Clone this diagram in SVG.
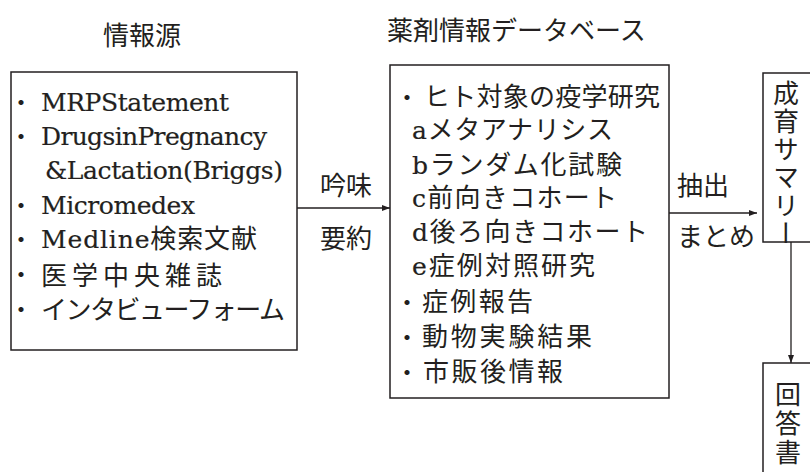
<svg xmlns="http://www.w3.org/2000/svg" width="810" height="472" viewBox="0 0 810 472">
<style>
  text { fill: #231f20; font-family: "DejaVu Serif", "Noto Sans CJK JP", serif; }
  .jp { font-family: "Noto Sans CJK JP", sans-serif; font-size: 26px; }
  .lat { font-size: 25px; stroke: #231f20; stroke-width: 0.2; }
  .mix { font-size: 26px; }
  .mix tspan.l { font-family: "DejaVu Serif", serif; font-size: 25px; stroke: #231f20; stroke-width: 0.2; }
  .bul { font-family: "Noto Sans CJK JP", sans-serif; font-size: 24px; text-anchor: middle; }
  .box { fill: #ffffff; stroke: #231f20; stroke-width: 1.5; }
  .con { stroke: #231f20; stroke-width: 1.3; fill: none; }
  .vert { font-family: "Noto Sans CJK JP", sans-serif; font-size: 26px; writing-mode: vertical-rl; }
</style>
<defs>
  <marker id="ah" viewBox="0 0 8 6" refX="8" refY="3" markerWidth="8" markerHeight="6" markerUnits="userSpaceOnUse" orient="auto">
    <path d="M0,0 L8,3 L0,6 Z" fill="#231f20"/>
  </marker>
</defs>

<text class="jp" x="103" y="45">情報源</text>
<text class="jp" x="387" y="40">薬剤情報データベース</text>

<g id="sources">
  <rect class="box" x="11" y="72" width="286" height="278"/>
  <text class="bul" x="21" y="111">・</text>
  <text class="lat" x="41" y="111" textLength="188">MRPStatement</text>
  <text class="bul" x="21" y="145">・</text>
  <text class="lat" x="41" y="145" textLength="226">DrugsinPregnancy</text>
  <text class="lat" x="45" y="179" textLength="238">&amp;Lactation(Briggs)</text>
  <text class="bul" x="21" y="214">・</text>
  <text class="lat" x="41" y="214" textLength="154">Micromedex</text>
  <text class="bul" x="21" y="248">・</text>
  <text class="mix" x="41" y="248" textLength="216"><tspan class="l">Medline</tspan>検索文献</text>
  <text class="bul" x="21" y="283">・</text>
  <text class="jp" x="41" y="285" textLength="181">医学中央雑誌</text>
  <text class="bul" x="21" y="318">・</text>
  <text class="jp" x="41" y="319" textLength="244">インタビューフォーム</text>
</g>

<g id="database">
  <rect class="box" x="390" y="65" width="279" height="333"/>
  <text class="bul" x="407" y="106">・</text>
  <text class="jp" x="424" y="106" textLength="236">ヒト対象の疫学研究</text>
  <text class="mix" x="412" y="139" textLength="201"><tspan class="l">a</tspan>メタアナリシス</text>
  <text class="mix" x="412" y="174" textLength="210"><tspan class="l">b</tspan>ランダム化試験</text>
  <text class="mix" x="412" y="207" textLength="205"><tspan class="l">c</tspan>前向きコホート</text>
  <text class="mix" x="412" y="241" textLength="236"><tspan class="l">d</tspan>後ろ向きコホート</text>
  <text class="mix" x="412" y="275" textLength="183"><tspan class="l">e</tspan>症例対照研究</text>
  <text class="bul" x="407" y="311">・</text>
  <text class="jp" x="422" y="311" textLength="111">症例報告</text>
  <text class="bul" x="407" y="346">・</text>
  <text class="jp" x="422" y="346" textLength="170">動物実験結果</text>
  <text class="bul" x="407" y="381">・</text>
  <text class="jp" x="423" y="381" textLength="140">市販後情報</text>
</g>

<g id="summary">
  <rect class="box" x="763" y="73" width="60" height="169"/>
  <text class="vert" x="786" y="80" letter-spacing="2">成育サマリー</text>
</g>

<g id="answer">
  <rect class="box" x="763" y="363" width="60" height="130"/>
  <text class="vert" x="788" y="381" letter-spacing="3">回答書</text>
</g>

<g id="connectors">
  <line class="con" x1="297" y1="208" x2="390" y2="208" marker-end="url(#ah)"/>
  <line class="con" x1="669" y1="213" x2="757" y2="213" marker-end="url(#ah)"/>
  <line class="con" x1="791" y1="242" x2="791" y2="363" marker-end="url(#ah)"/>
  <text class="jp" x="320" y="195">吟味</text>
  <text class="jp" x="320" y="248">要約</text>
  <text class="jp" x="677" y="195">抽出</text>
  <text class="jp" x="677" y="246">まとめ</text>
</g>
</svg>
